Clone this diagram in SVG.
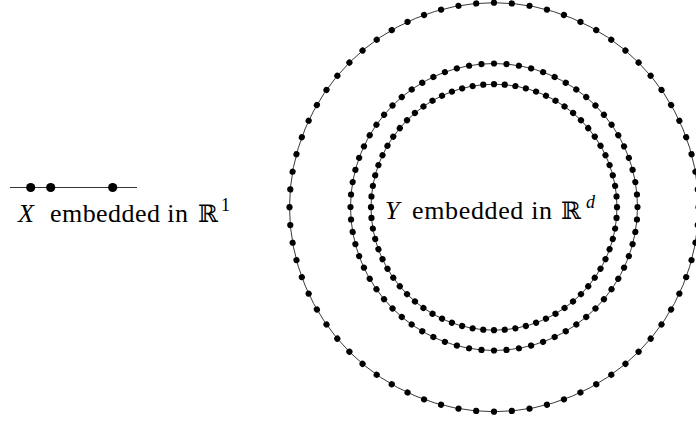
<svg xmlns="http://www.w3.org/2000/svg" xmlns:xlink="http://www.w3.org/1999/xlink" width="696" height="421" viewBox="0 0 696 421">
<style>
.ring{fill:none;stroke:#222;stroke-width:0.9}
.pt{fill:#000}
.lbl{font-family:'Liberation Serif',serif;font-size:26px;fill:#000}
.it{font-style:italic}
.sup{font-size:18px}
.bb{font-family:'DejaVu Serif','DejaVu Sans',serif;font-size:24px}
</style>
<defs>
<circle id="dO" class="pt" cx="698.5" cy="207.2" r="3.1"/>
<circle id="dM" class="pt" cx="637.5" cy="207" r="3.1"/>
<circle id="dI" class="pt" cx="617" cy="207.2" r="3.1"/>
<g id="oA">
<use href="#dO"/><use href="#dO" transform="rotate(5 494 207.2)"/><use href="#dO" transform="rotate(10 494 207.2)"/><use href="#dO" transform="rotate(15 494 207.2)"/><use href="#dO" transform="rotate(20 494 207.2)"/><use href="#dO" transform="rotate(25 494 207.2)"/><use href="#dO" transform="rotate(30 494 207.2)"/><use href="#dO" transform="rotate(35 494 207.2)"/>
</g>
<g id="mA">
<use href="#dM"/><use href="#dM" transform="rotate(5 494 207)"/><use href="#dM" transform="rotate(10 494 207)"/><use href="#dM" transform="rotate(15 494 207)"/><use href="#dM" transform="rotate(20 494 207)"/><use href="#dM" transform="rotate(25 494 207)"/><use href="#dM" transform="rotate(30 494 207)"/><use href="#dM" transform="rotate(35 494 207)"/>
</g>
<g id="iA">
<use href="#dI"/><use href="#dI" transform="rotate(5 494 207.2)"/><use href="#dI" transform="rotate(10 494 207.2)"/><use href="#dI" transform="rotate(15 494 207.2)"/><use href="#dI" transform="rotate(20 494 207.2)"/><use href="#dI" transform="rotate(25 494 207.2)"/><use href="#dI" transform="rotate(30 494 207.2)"/><use href="#dI" transform="rotate(35 494 207.2)"/>
</g>
</defs>
<rect width="696" height="421" fill="#fff"/>
<g id="embeddingX">
<line x1="10" y1="187.5" x2="137" y2="187.5" stroke="#333" stroke-width="1.2"/>
<circle class="pt" cx="30.7" cy="187.5" r="4.6"/>
<circle class="pt" cx="50.7" cy="187.5" r="4.6"/>
<circle class="pt" cx="112.7" cy="187.5" r="4.6"/>
<text class="lbl" y="222"><tspan class="it" x="18">X</tspan><tspan x="50" textLength="138" lengthAdjust="spacing">embedded in</tspan><tspan class="bb" x="198">ℝ</tspan><tspan class="sup" x="221" y="211">1</tspan></text>
</g>
<g id="embeddingY">
<g id="outerRing">
<circle class="ring" cx="494" cy="207.2" r="204.5"/>
<use href="#oA"/><use href="#oA" transform="rotate(40 494 207.2)"/><use href="#oA" transform="rotate(80 494 207.2)"/><use href="#oA" transform="rotate(120 494 207.2)"/><use href="#oA" transform="rotate(160 494 207.2)"/><use href="#oA" transform="rotate(200 494 207.2)"/><use href="#oA" transform="rotate(240 494 207.2)"/><use href="#oA" transform="rotate(280 494 207.2)"/><use href="#oA" transform="rotate(320 494 207.2)"/>
</g>
<g id="middleRing">
<circle class="ring" cx="494" cy="207" r="143.5"/>
<use href="#mA"/><use href="#mA" transform="rotate(40 494 207)"/><use href="#mA" transform="rotate(80 494 207)"/><use href="#mA" transform="rotate(120 494 207)"/><use href="#mA" transform="rotate(160 494 207)"/><use href="#mA" transform="rotate(200 494 207)"/><use href="#mA" transform="rotate(240 494 207)"/><use href="#mA" transform="rotate(280 494 207)"/><use href="#mA" transform="rotate(320 494 207)"/>
</g>
<g id="innerRing">
<circle class="ring" cx="494" cy="207.2" r="123"/>
<use href="#iA"/><use href="#iA" transform="rotate(40 494 207.2)"/><use href="#iA" transform="rotate(80 494 207.2)"/><use href="#iA" transform="rotate(120 494 207.2)"/><use href="#iA" transform="rotate(160 494 207.2)"/><use href="#iA" transform="rotate(200 494 207.2)"/><use href="#iA" transform="rotate(240 494 207.2)"/><use href="#iA" transform="rotate(280 494 207.2)"/><use href="#iA" transform="rotate(320 494 207.2)"/>
</g>
<text class="lbl" y="219"><tspan class="it" x="385">Y</tspan><tspan x="412" textLength="140" lengthAdjust="spacing">embedded in</tspan><tspan class="bb" x="561">ℝ</tspan><tspan class="sup it" x="586" y="208">d</tspan></text>
</g>
</svg>
